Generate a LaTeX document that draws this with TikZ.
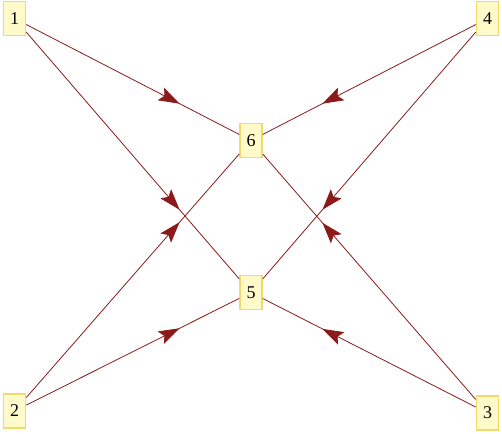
\documentclass[tikz,border=0pt]{standalone}
\usepackage{fontspec}
\setmainfont{Liberation Serif}
\usetikzlibrary{arrows.meta,decorations.markings}
\definecolor{edgecol}{HTML}{8B1A1A}
\definecolor{boxfill}{HTML}{FFFACA}
\definecolor{boxdraw}{HTML}{F2D96C}
\tikzset{
  vbox/.style={draw=boxdraw, fill=boxfill, line width=1.6pt, minimum width=22pt, minimum height=34pt, inner sep=0pt, font=\fontsize{18}{20}\selectfont},
  edge/.style={draw=edgecol, line width=0.8pt, postaction={decorate},
    decoration={markings, mark=at position 0.72 with {\arrow{Stealth[length=21pt,width=14pt,inset=4pt,fill=edgecol]}}}}
}
\begin{document}
\begin{tikzpicture}[x=1pt,y=-1pt]
\useasboundingbox (0,0) rectangle (502,433);
\node[vbox] (n1) at (14.5,18.5) {1};
\node[vbox] (n4) at (487.5,18.5) {4};
\node[vbox] (n6) at (251,140.5) {6};
\node[vbox] (n5) at (251,292.5) {5};
\node[vbox] (n2) at (14.5,411) {2};
\node[vbox] (n3) at (487.5,413) {3};
\draw[edge] (n1) -- (n6);
\draw[edge] (n1) -- (n5);
\draw[edge] (n2) -- (n6);
\draw[edge] (n2) -- (n5);
\draw[edge] (n4) -- (n6);
\draw[edge] (n4) -- (n5);
\draw[edge] (n3) -- (n6);
\draw[edge] (n3) -- (n5);
\end{tikzpicture}
\end{document}
